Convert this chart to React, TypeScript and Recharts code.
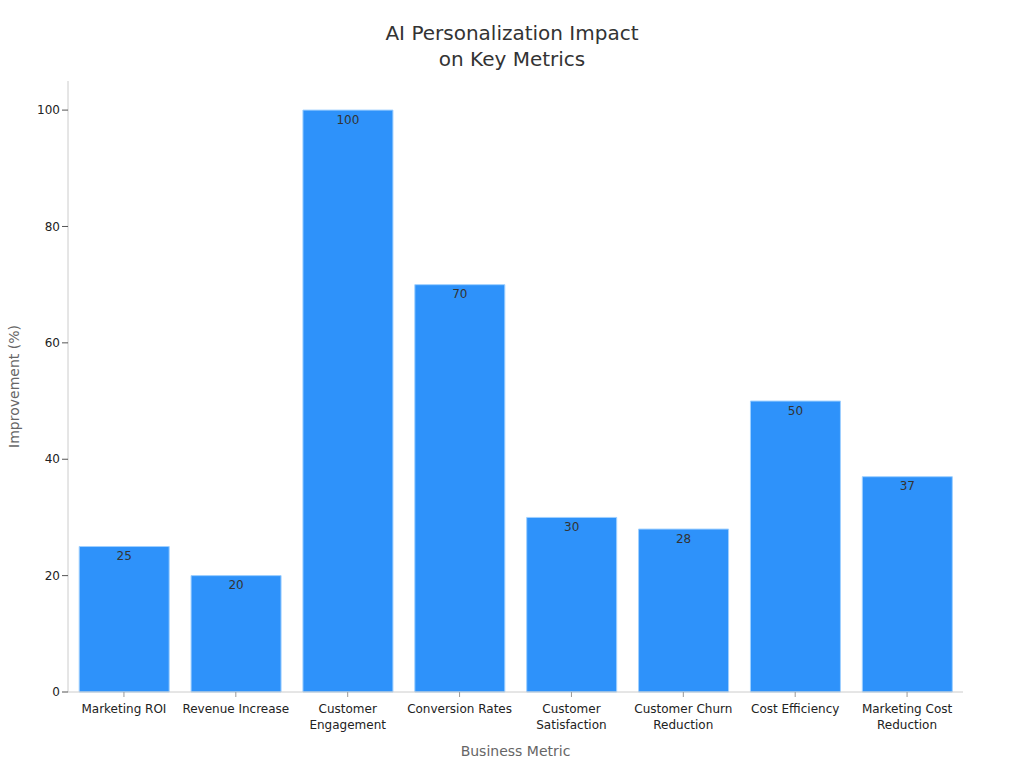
import { BarChart, Bar, XAxis, YAxis, LabelList } from "recharts";

const metrics = [
  "Marketing ROI",
  "Revenue Increase",
  "Customer Engagement",
  "Conversion Rates",
  "Customer Satisfaction",
  "Customer Churn Reduction",
  "Cost Efficiency",
  "Marketing Cost Reduction",
];
const improvement = [25, 20, 100, 70, 30, 28, 50, 37];
const yTicks = [0, 20, 40, 60, 80, 100];

const data = metrics.map((metric, i) => ({ metric, value: improvement[i] }));

const FONT = "DejaVu Sans, sans-serif";

function wrap(text: string, max: number) {
  const words = text.split(" ");
  const lines: string[] = [];
  let cur = "";
  for (const w of words) {
    const next = cur ? cur + " " + w : w;
    if (next.length > max && cur) {
      lines.push(cur);
      cur = w;
    } else {
      cur = next;
    }
  }
  if (cur) lines.push(cur);
  return lines;
}

function MetricTick({ x, y, payload }: any) {
  const lines = wrap(payload.value, 16);
  return (
    <text x={x} y={y + 14} textAnchor="middle" fill="#222" fontSize={12} fontFamily={FONT}>
      {lines.map((l, i) => (
        <tspan key={i} x={x} dy={i === 0 ? 0 : 16}>
          {l}
        </tspan>
      ))}
    </text>
  );
}

export default function App() {
  return (
    <div style={{ position: "absolute", left: 0, top: 0, width: 1024, height: 768, background: "#fff" }}>
      <div
        style={{
          position: "absolute",
          top: 20,
          left: 0,
          width: 1024,
          textAlign: "center",
          fontFamily: FONT,
          fontSize: 20,
          lineHeight: "26px",
          color: "#333",
        }}
      >
        AI Personalization Impact
        <br />
        on Key Metrics
      </div>
      <BarChart
        width={1024}
        height={768}
        data={data}
        margin={{ top: 81, right: 61, left: 1, bottom: 0 }}
        barCategoryGap="10%"
      >
        <XAxis
          dataKey="metric"
          height={76}
          interval={0}
          tick={<MetricTick />}
          tickSize={5}
          axisLine={{ stroke: "#ccc" }}
          tickLine={{ stroke: "#999" }}
          label={{
            value: "Business Metric",
            position: "insideBottom",
            offset: 12,
            fill: "#666",
            fontSize: 14,
            fontFamily: FONT,
          }}
        />
        <YAxis
          width={67}
          domain={[0, 105]}
          ticks={yTicks}
          tickSize={6}
          axisLine={{ stroke: "#ccc" }}
          tickLine={{ stroke: "#555" }}
          tick={{ fill: "#222", fontSize: 12, fontFamily: FONT }}
          label={{
            value: "Improvement (%)",
            angle: -90,
            position: "insideLeft",
            offset: 13,
            fill: "#666",
            fontSize: 14,
            fontFamily: FONT,
            style: { textAnchor: "middle" },
          }}
        />
        <Bar dataKey="value" fill="#2e92fa" stroke="#9fd0ff" strokeWidth={1} isAnimationActive={false}>
          <LabelList dataKey="value" position="insideTop" offset={5} fill="#333" fontSize={12} fontFamily={FONT} />
        </Bar>
      </BarChart>
    </div>
  );
}
